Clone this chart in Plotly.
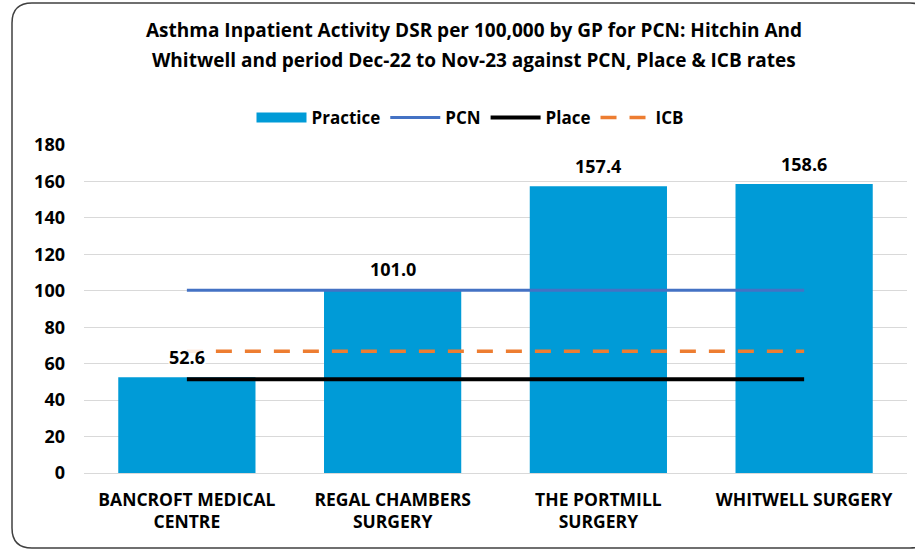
import plotly.graph_objects as go

# data
practices = ["BANCROFT MEDICAL<br>CENTRE", "REGAL CHAMBERS<br>SURGERY",
             "THE PORTMILL<br>SURGERY", "WHITWELL SURGERY"]
practice_rate = [52.6, 101.0, 157.4, 158.6]
pcn_rate = 100.3
place_rate = 51.4
icb_rate = 66.8
y_ticks = [0, 20, 40, 60, 80, 100, 120, 140, 160, 180]
title_lines = ["Asthma Inpatient Activity DSR per 100,000 by GP for PCN: Hitchin And",
               "Whitwell and period Dec-22 to Nov-23 against PCN, Place & ICB rates"]

W, H = 915, 551
L, R, T, B = 84, 8, 145, 78
FONT = "Open Sans, Arial, sans-serif"
BAR_COLOR = "#009BD7"

pw, ph = W - L - R, H - T - B
def px(x): return (x - L) / pw
def py(y): return (H - B - y) / ph

fig = go.Figure()

fig.add_trace(go.Bar(
    x=practices, y=practice_rate, name="Practice", showlegend=False,
    marker=dict(color=BAR_COLOR, line=dict(width=0)),
))
# legend-only entry so the Practice key is a wide block like the original
fig.add_trace(go.Scatter(
    x=[None], y=[None], name="Practice", mode="lines",
    line=dict(color=BAR_COLOR, width=10),
))
fig.add_trace(go.Scatter(
    x=practices, y=[pcn_rate] * len(practices), name="PCN", mode="lines",
    line=dict(color="#4472C4", width=3),
))
fig.add_trace(go.Scatter(
    x=practices, y=[place_rate] * len(practices), name="Place", mode="lines",
    line=dict(color="black", width=4),
))
fig.add_trace(go.Scatter(
    x=practices, y=[icb_rate] * len(practices), name="ICB", mode="lines",
    line=dict(color="#ED7D31", width=3.5, dash="16px,13px"),
))

# value labels above the bars
for name, val in zip(practices, practice_rate):
    fig.add_annotation(
        x=name, y=val, text=f"<b>{val:.1f}</b>", showarrow=False,
        yanchor="middle", yshift=20, bgcolor="rgba(255,255,255,0.85)",
        borderpad=0, font=dict(size=18, family=FONT, color="black"),
    )

# rounded chart border, drawn in paper coordinates
x0, x1, y0, y1, r = 12, 930, 3, 548, 20
path = (f"M {px(x0 + r)},{py(y0)} L {px(x1 - r)},{py(y0)} "
        f"Q {px(x1)},{py(y0)} {px(x1)},{py(y0 + r)} L {px(x1)},{py(y1 - r)} "
        f"Q {px(x1)},{py(y1)} {px(x1 - r)},{py(y1)} L {px(x0 + r)},{py(y1)} "
        f"Q {px(x0)},{py(y1)} {px(x0)},{py(y1 - r)} L {px(x0)},{py(y0 + r)} "
        f"Q {px(x0)},{py(y0)} {px(x0 + r)},{py(y0)} Z")
fig.add_shape(type="path", path=path, xref="paper", yref="paper",
              line=dict(color="#404040", width=1.5), layer="below")

for line, ypix in zip(title_lines, [30, 60]):
    fig.add_annotation(
        text=f"<b>{line}</b>", xref="paper", yref="paper",
        x=px(474), y=py(ypix), xanchor="center", yanchor="middle",
        showarrow=False, font=dict(size=19, family=FONT, color="black"),
    )

fig.update_layout(
    width=W, height=H,
    margin=dict(l=L, r=R, t=T, b=B),
    paper_bgcolor="white", plot_bgcolor="white",
    font=dict(family=FONT, color="black", weight="bold"),
    legend=dict(
        orientation="h", x=px(470), xanchor="center", y=py(118), yanchor="middle",
        font=dict(size=17, family=FONT, color="black", weight="bold"),
        itemwidth=50, traceorder="normal",
    ),
    showlegend=True,
    bargap=0.333,
)
fig.update_xaxes(
    tickfont=dict(size=17.5, family=FONT, color="black", weight="bold"),
    showgrid=False, showline=False, ticks="", ticklabelstandoff=14,
)
fig.update_yaxes(
    range=[0, 180], tickvals=y_ticks,
    tickfont=dict(size=18, family=FONT, color="black", weight="bold"),
    showgrid=True, gridcolor="#D9D9D9", gridwidth=1,
    zeroline=True, zerolinecolor="#D9D9D9", zerolinewidth=1,
    showline=False, ticks="", ticklabelstandoff=18,
)

fig.write_html("out.html", config={"displayModeBar": False},
               post_script="document.body.style.margin='0';")
